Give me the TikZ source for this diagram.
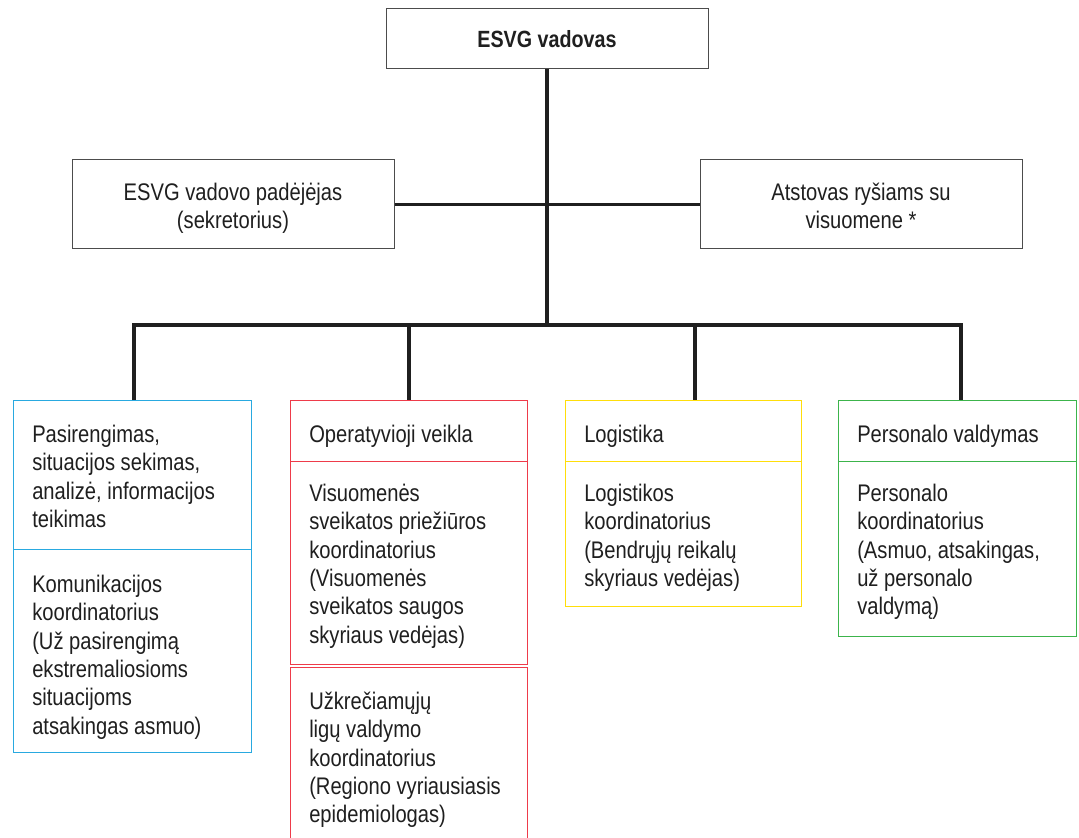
\documentclass[tikz,border=0pt]{standalone}
\usepackage{fontspec}
\setmainfont[FakeStretch=0.84]{Liberation Sans}
\begin{document}
\begin{tikzpicture}[x=0.75pt,y=-0.75pt,
  txt/.style={text=black!88, inner sep=0pt, font=\fontsize{18}{21.3}\selectfont, align=left, anchor=north west},
  ctxt/.style={txt, align=center, anchor=north},
  gbox/.style={draw=black!70, line width=0.9pt, inner sep=0pt, anchor=north west},
  bluebox/.style={draw={rgb,255:red,41;green,169;blue,224}, line width=1pt, inner sep=0pt, anchor=north west},
  redbox/.style={draw={rgb,255:red,238;green,59;blue,74}, line width=1pt, inner sep=0pt, anchor=north west},
  yelbox/.style={draw={rgb,255:red,255;green,222;blue,10}, line width=1pt, inner sep=0pt, anchor=north west},
  grnbox/.style={draw={rgb,255:red,60;green,180;blue,75}, line width=1pt, inner sep=0pt, anchor=north west},
  conn/.style={draw=black!88, line width=3pt, line join=miter},
  thinconn/.style={draw=black!88, line width=2.3pt}]
\useasboundingbox (0,0) rectangle (1079,838);
\clip (0,0) rectangle (1079,838);
\fill[white] (0,0) rectangle (1079,838);

% top level boxes
\node[gbox, minimum width=241.5pt, minimum height=45pt] (top) at (386,8) {};
\node[gbox, minimum width=241.5pt, minimum height=66.75pt] (sec) at (72,159) {};
\node[gbox, minimum width=241.5pt, minimum height=66.75pt] (rep) at (700,159) {};
\node[txt, anchor=base, font=\fontsize{17.6}{21}\selectfont\bfseries] (topt) at (547,48) {ESVG vadovas};
\node[ctxt] (sect) at (233,180.1) {\strut ESVG vadovo padėjėjas\\(sekretorius)};
\node[ctxt] (rept) at (861,180.1) {\strut Atstovas ryšiams su\\visuomene *};

% column boxes
\node[bluebox, minimum width=178.5pt, minimum height=111.75pt] (bH) at (13,400) {};
\node[bluebox, minimum width=178.5pt, minimum height=152.25pt] (bB) at (13,549) {};
\node[redbox, minimum width=177.75pt, minimum height=45.75pt] (rH) at (290,400) {};
\node[redbox, minimum width=177.75pt, minimum height=152.25pt] (rB) at (290,461) {};
\node[redbox, minimum width=177.75pt, minimum height=140pt] (rC) at (290,667) {};
\node[yelbox, minimum width=177pt, minimum height=45.75pt] (yH) at (565,400) {};
\node[yelbox, minimum width=177pt, minimum height=108.75pt] (yB) at (565,461) {};
\node[grnbox, minimum width=178.5pt, minimum height=45.75pt] (gH) at (838,400) {};
\node[grnbox, minimum width=178.5pt, minimum height=131.25pt] (gB) at (838,461) {};

% texts
\node[txt] (bHt) at (32,422.1) {\strut Pasirengimas,\\situacijos sekimas,\\analizė, informacijos\\teikimas};
\node[txt] (bBt) at (32,572.1) {\strut Komunikacijos\\koordinatorius\\(Už pasirengimą\\ekstremaliosioms\\situacijoms\\atsakingas asmuo)};
\node[txt] (rHt) at (309,422.1) {\strut Operatyvioji veikla};
\node[txt] (rBt) at (309,481.1) {\strut Visuomenės\\sveikatos priežiūros\\koordinatorius\\(Visuomenės\\sveikatos saugos\\skyriaus vedėjas)};
\node[txt] (rCt) at (309,689.1) {\strut Užkrečiamųjų\\ligų valdymo\\koordinatorius\\(Regiono vyriausiasis\\epidemiologas)};
\node[txt] (yHt) at (584,422.1) {\strut Logistika};
\node[txt] (yBt) at (584,481.1) {\strut Logistikos\\koordinatorius\\(Bendrųjų reikalų\\skyriaus vedėjas)};
\node[txt] (gHt) at (857,422.1) {\strut Personalo valdymas};
\node[txt] (gBt) at (857,481.1) {\strut Personalo\\koordinatorius\\(Asmuo, atsakingas,\\už personalo\\valdymą)};

% connectors
\coordinate (hub) at (546.5,325);
\coordinate (d1) at (134,325);
\coordinate (d2) at (408.5,325);
\coordinate (d3) at (695,325);
\coordinate (d4) at (961,325);
\draw[conn] (top.south -| hub) -- (hub);
\draw[thinconn] (sec.east) -- (rep.west);
\draw[conn] (d1 |- bH.north) -- (d1) -- (d4) -- (d4 |- gH.north);
\draw[conn] (d2) -- (d2 |- rH.north);
\draw[conn] (d3) -- (d3 |- yH.north);
\end{tikzpicture}
\end{document}
